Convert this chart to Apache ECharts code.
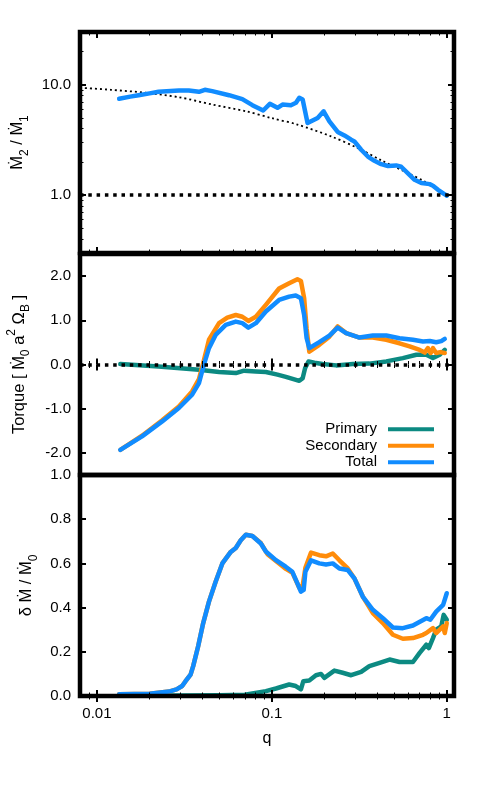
<!DOCTYPE html>
<html><head><meta charset="utf-8">
<script src="https://cdn.jsdelivr.net/npm/echarts@6/dist/echarts.min.js"></script>
<style>html,body{margin:0;padding:0;background:#fff}#c{width:485px;height:797px}</style>
</head><body><div id="c"></div>
<script>
// ---------- data ----------
const xTickMajor = [0.01, 0.1, 1];
const xTickLabels = ['0.01', '0.1', '1'];
const xTickMinor = [0.009, 0.02, 0.03, 0.04, 0.05, 0.06, 0.07, 0.08, 0.09, 0.2, 0.3, 0.4, 0.5, 0.6, 0.7, 0.8, 0.9];

const ratioTickMajor = [1, 10];
const ratioTickLabels = ['1.0', '10.0'];
const ratioTickMinor = [0.3, 0.4, 0.5, 0.6, 0.7, 0.8, 0.9, 2, 3, 4, 5, 6, 7, 8, 9, 20, 30];
const torqueTicks = [-2, -1, 0, 1, 2];
const torqueTickLabels = ['-2.0', '-1.0', '0.0', '1.0', '2.0'];
const accTicks = [0, 0.2, 0.4, 0.6, 0.8, 1];
const accTickLabels = ['0.0', '0.2', '0.4', '0.6', '0.8', '1.0'];

// Panel 1: Mdot2 / Mdot1 (Total)
const ratioQ = [0.0134, 0.0155, 0.0173, 0.02, 0.0225, 0.0294, 0.0335, 0.0383, 0.0414, 0.0456, 0.0569, 0.0678, 0.0774, 0.0892, 0.0974, 0.1077, 0.1151, 0.1285, 0.1374, 0.1435, 0.150, 0.160, 0.1827, 0.1977, 0.2133, 0.2379, 0.260, 0.284, 0.2965, 0.324, 0.354, 0.386, 0.422, 0.461, 0.514, 0.549, 0.600, 0.655, 0.716, 0.798, 0.834, 0.891, 0.974, 1.0];
const ratioV = [7.46, 7.8, 8.04, 8.35, 8.63, 8.87, 8.87, 8.63, 9.0, 8.75, 8.04, 7.40, 6.53, 5.84, 6.72, 6.18, 6.62, 6.53, 6.86, 7.62, 7.35, 4.51, 5.01, 5.75, 4.67, 3.74, 3.48, 3.18, 3.07, 2.58, 2.24, 2.05, 1.91, 1.84, 1.86, 1.81, 1.58, 1.38, 1.29, 1.26, 1.22, 1.12, 1.02, 0.99];
// Panel 1: reference dotted curve
const refQ = [0.008, 0.012, 0.0189, 0.0294, 0.0456, 0.071, 0.1, 0.14, 0.218, 0.31, 0.422, 0.574, 0.748, 1.0];
const refV = [9.39, 9.0, 8.46, 7.71, 6.62, 5.75, 4.98, 4.36, 3.41, 2.67, 2.07, 1.64, 1.33, 1.0];

// Panel 2: torque
const torqueTotalQ = [0.0136, 0.0181, 0.0236, 0.0294, 0.035, 0.0383, 0.0409, 0.0437, 0.0477, 0.0545, 0.0622, 0.0678, 0.0734, 0.081, 0.0924, 0.110, 0.1256, 0.137, 0.1466, 0.153, 0.158, 0.1637, 0.1867, 0.2133, 0.2379, 0.266, 0.317, 0.378, 0.451, 0.537, 0.641, 0.731, 0.80, 0.87, 0.93, 0.974];
const torqueTotalV = [-1.93, -1.625, -1.287, -0.985, -0.684, -0.42, 0.0, 0.37, 0.67, 0.896, 0.97, 0.935, 0.835, 0.935, 1.20, 1.46, 1.535, 1.56, 1.50, 1.12, 0.60, 0.37, 0.505, 0.655, 0.835, 0.71, 0.61, 0.655, 0.655, 0.595, 0.56, 0.52, 0.53, 0.505, 0.53, 0.58];
const torqueSecQ = [0.0136, 0.0181, 0.0236, 0.0294, 0.035, 0.0383, 0.0403, 0.0437, 0.0499, 0.0556, 0.0622, 0.0678, 0.0734, 0.081, 0.0924, 0.110, 0.1256, 0.140, 0.1466, 0.153, 0.158, 0.1637, 0.1867, 0.2133, 0.2379, 0.266, 0.317, 0.378, 0.451, 0.537, 0.613, 0.70, 0.748, 0.78, 0.81, 0.834, 0.87, 0.92, 0.974];
const torqueSecV = [-1.93, -1.61, -1.26, -0.95, -0.61, -0.33, 0.0, 0.56, 0.935, 1.06, 1.12, 1.08, 0.986, 1.08, 1.35, 1.72, 1.84, 1.93, 1.89, 1.50, 0.82, 0.29, 0.445, 0.63, 0.86, 0.71, 0.61, 0.61, 0.56, 0.48, 0.41, 0.33, 0.27, 0.37, 0.26, 0.37, 0.26, 0.28, 0.26];
const torquePriQ = [0.0136, 0.0225, 0.0383, 0.0499, 0.0622, 0.0694, 0.081, 0.0924, 0.1077, 0.1203, 0.1435, 0.150, 0.155, 0.162, 0.175, 0.195, 0.233, 0.290, 0.361, 0.451, 0.561, 0.67, 0.764, 0.834, 0.91, 0.974];
const torquePriV = [0.01, -0.045, -0.12, -0.17, -0.195, -0.14, -0.157, -0.17, -0.23, -0.28, -0.37, -0.31, -0.08, 0.07, 0.04, 0.01, -0.02, 0.01, 0.02, 0.07, 0.145, 0.22, 0.22, 0.145, 0.22, 0.33];

// Panel 3: accretion variability
const accTotalQ = [0.0134, 0.02, 0.0258, 0.0285, 0.0307, 0.0321, 0.0343, 0.0355, 0.0379, 0.0405, 0.0437, 0.0477, 0.0521, 0.0582, 0.0622, 0.0664, 0.071, 0.0774, 0.0865, 0.0924, 0.1055, 0.12, 0.131, 0.14, 0.1466, 0.152, 0.1555, 0.1675, 0.1867, 0.204, 0.223, 0.2433, 0.2716, 0.2965, 0.331, 0.378, 0.4315, 0.492, 0.561, 0.641, 0.764, 0.805, 0.87, 0.953, 1.0];
const accTotalV = [0.008, 0.01, 0.02, 0.03, 0.045, 0.067, 0.097, 0.135, 0.225, 0.33, 0.427, 0.517, 0.60, 0.652, 0.670, 0.705, 0.730, 0.724, 0.690, 0.654, 0.615, 0.585, 0.562, 0.51, 0.472, 0.48, 0.562, 0.614, 0.600, 0.595, 0.600, 0.577, 0.570, 0.532, 0.450, 0.390, 0.352, 0.310, 0.307, 0.319, 0.352, 0.345, 0.382, 0.412, 0.465];
const accSecQ = [0.0134, 0.02, 0.0258, 0.0285, 0.0307, 0.0321, 0.0343, 0.0355, 0.0379, 0.0405, 0.0437, 0.0477, 0.0521, 0.0582, 0.0622, 0.0664, 0.071, 0.0774, 0.0865, 0.0944, 0.110, 0.1203, 0.1312, 0.1435, 0.150, 0.1555, 0.1675, 0.1867, 0.204, 0.223, 0.2433, 0.2716, 0.2965, 0.331, 0.378, 0.4315, 0.492, 0.561, 0.641, 0.731, 0.764, 0.834, 0.87, 0.953, 0.974, 1.0];
const accSecV = [0.008, 0.01, 0.02, 0.03, 0.045, 0.067, 0.097, 0.135, 0.225, 0.33, 0.427, 0.517, 0.60, 0.652, 0.670, 0.705, 0.730, 0.724, 0.692, 0.642, 0.60, 0.575, 0.557, 0.49, 0.50, 0.58, 0.649, 0.637, 0.632, 0.645, 0.614, 0.577, 0.532, 0.45, 0.375, 0.330, 0.277, 0.259, 0.262, 0.277, 0.285, 0.307, 0.285, 0.315, 0.285, 0.33];
const accPriQ = [0.0134, 0.03, 0.05, 0.07, 0.0924, 0.1055, 0.1256, 0.137, 0.1466, 0.1514, 0.1637, 0.1787, 0.191, 0.1995, 0.2277, 0.254, 0.284, 0.324, 0.361, 0.413, 0.471, 0.537, 0.641, 0.70, 0.764, 0.79, 0.834, 0.87, 0.93, 0.96, 1.0];
const accPriV = [0.002, 0.002, 0.003, 0.006, 0.022, 0.034, 0.052, 0.045, 0.030, 0.067, 0.070, 0.094, 0.100, 0.082, 0.115, 0.105, 0.094, 0.109, 0.135, 0.150, 0.165, 0.154, 0.154, 0.195, 0.232, 0.217, 0.262, 0.30, 0.315, 0.367, 0.345];

// ---------- styling / layout ----------
const FONT = '"Liberation Sans", Arial, Helvetica, sans-serif';
const C_PRI = '#0c8a82', C_SEC = '#ff8c0a', C_TOT = '#118cff';
const X_MIN = 0.008, X_MAX = 1.1;
const pairs = (q, v) => q.map((x, i) => [x, v[i]]);
const labelStyle = {show: true, color: '#000', fontFamily: FONT, fontSize: 15};
const rich = {
  t: {fontFamily: FONT, fontSize: 16.5, color: '#000', lineHeight: 26, verticalAlign: 'middle'},
  s: {fontFamily: FONT, fontSize: 12, color: '#000', lineHeight: 14, verticalAlign: 'bottom'},
  p: {fontFamily: FONT, fontSize: 12, color: '#000', lineHeight: 14, verticalAlign: 'top'}
};

const grids = [
  {top: 32, height: 221}, {top: 254, height: 221}, {top: 475, height: 221}
].map(g => Object.assign(g, {left: 80, width: 374, show: true, z: 10, borderColor: '#000', borderWidth: 4.5,
  backgroundColor: 'transparent', containLabel: false, outerBoundsMode: 'none'}));

const xAxes = [], yAxes = [];
function tick(vals, len, w) {
  return {show: true, inside: true, length: len, customValues: vals, lineStyle: {color: '#000', width: w}};
}
function addX(gi, withLabels) {
  const base = {type: 'log', logBase: 10, min: X_MIN, max: X_MAX, gridIndex: gi, z: 11,
    axisLine: {show: false}, splitLine: {show: false}, axisLabel: {show: false}};
  const main = Object.assign({}, base, {position: 'bottom', axisTick: tick(xTickMajor, 6, 2)});
  if (withLabels) {
    main.axisLabel = Object.assign({}, labelStyle, {margin: 10, customValues: xTickMajor,
      formatter: v => xTickLabels[xTickMajor.findIndex(t => Math.abs(t - v) < 1e-9)]});
    main.name = 'q'; main.nameLocation = 'middle'; main.nameGap = 35;
    main.nameTextStyle = {fontFamily: FONT, fontSize: 16, color: '#000'};
  }
  const idx = xAxes.length;
  xAxes.push(main);
  xAxes.push(Object.assign({}, base, {position: 'bottom', axisTick: tick(xTickMinor, 3.5, 1)}));
  xAxes.push(Object.assign({}, base, {position: 'top', axisTick: tick(xTickMajor, 6, 2)}));
  xAxes.push(Object.assign({}, base, {position: 'top', axisTick: tick(xTickMinor, 3.5, 1)}));
  return idx;
}
function addY(gi, scale, major, labels, minor, name, nameGap) {
  const base = Object.assign({gridIndex: gi, z: 11, axisLine: {show: false}, splitLine: {show: false},
    axisLabel: {show: false}}, scale);
  const main = Object.assign({}, base, {position: 'left', axisTick: tick(major, 6, 2),
    axisLabel: Object.assign({}, labelStyle, {margin: 9, customValues: major,
      formatter: v => labels[major.findIndex(t => Math.abs(t - v) < 1e-9)]}),
    name: name, nameLocation: 'middle', nameRotate: 90, nameGap: nameGap,
    nameTextStyle: {fontFamily: FONT, fontSize: 16.5, color: '#000', rich: rich}});
  const idx = yAxes.length;
  yAxes.push(main);
  yAxes.push(Object.assign({}, base, {position: 'left', axisTick: minor ? tick(minor, 3.5, 1) : {show: false}}));
  yAxes.push(Object.assign({}, base, {position: 'right', axisTick: tick(major, 6, 2)}));
  yAxes.push(Object.assign({}, base, {position: 'right', axisTick: minor ? tick(minor, 3.5, 1) : {show: false}}));
  return idx;
}

const x0 = addX(0, false), x1 = addX(1, false), x2 = addX(2, true);
const y0 = addY(0, {type: 'log', logBase: 10, min: 0.3, max: 30}, ratioTickMajor, ratioTickLabels, ratioTickMinor,
  '{t|Ṁ}{s|2}{t| / Ṁ}{s|1}', 48);
const y1 = addY(1, {type: 'value', min: -2.5, max: 2.5}, torqueTicks, torqueTickLabels, null,
  '{t|Torque [ Ṁ}{s|0}{t| a}{p|2}{t| Ω}{s|B}{t| ]}', 48);
const y2 = addY(2, {type: 'value', min: 0, max: 1}, accTicks, accTickLabels, null,
  '{t|δ Ṁ / Ṁ}{s|0}', 40);

function line(name, color, data, xi, yi, extra) {
  return Object.assign({type: 'line', name: name, data: data, xAxisIndex: xi, yAxisIndex: yi,
    showSymbol: false, symbol: 'none', color: color, itemStyle: {color: color},
    lineStyle: {color: color, width: 4.5, join: 'round', cap: 'round'}, clip: true, silent: true, z: 3}, extra || {});
}
const thickDots = {color: '#000', type: [3.5, 4.8], width: 3.5};

const series = [
  line('ref', '#000', pairs(refQ, refV), x0, y0, {lineStyle: {color: '#000', width: 1.8, type: [2, 3]}, z: 2, smooth: 0.3}),
  line('Total', C_TOT, pairs(ratioQ, ratioV), x0, y0, {
    markLine: {symbol: 'none', silent: true, label: {show: false}, lineStyle: thickDots, data: [{yAxis: 1}]}}),
  line('Primary', C_PRI, pairs(torquePriQ, torquePriV), x1, y1, {
    markLine: {symbol: 'none', silent: true, label: {show: false}, lineStyle: thickDots, data: [{yAxis: 0}]}}),
  line('Secondary', C_SEC, pairs(torqueSecQ, torqueSecV), x1, y1),
  line('Total', C_TOT, pairs(torqueTotalQ, torqueTotalV), x1, y1),
  line('Primary', C_PRI, pairs(accPriQ, accPriV), x2, y2),
  line('Secondary', C_SEC, pairs(accSecQ, accSecV), x2, y2),
  line('Total', C_TOT, pairs(accTotalQ, accTotalV), x2, y2)
];

const chart = echarts.init(document.getElementById('c'), null, {renderer: 'canvas'});
chart.setOption({
  animation: false,
  backgroundColor: '#fff',
  grid: grids,
  xAxis: xAxes,
  yAxis: yAxes,
  legend: {
    data: ['Primary', 'Secondary', 'Total'], orient: 'vertical', right: 51, top: 421, padding: 0,
    align: 'right', icon: 'rect', itemWidth: 46, itemHeight: 4, itemGap: 0, selectedMode: false,
    textStyle: {fontFamily: FONT, fontSize: 15, color: '#000', lineHeight: 16.5, padding: [0, 6, 0, 0]}
  },
  series: series
});
</script>
</body></html>
